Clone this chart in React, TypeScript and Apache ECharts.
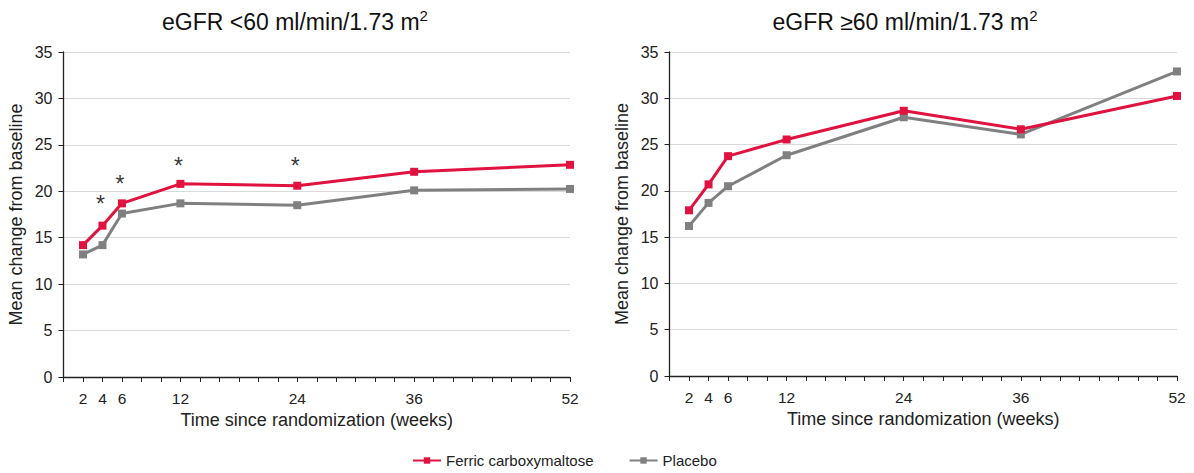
import React, { useEffect, useRef } from "react";
import * as echarts from "echarts";

const weeks = [2, 4, 6, 12, 24, 36, 52];
const xTickLabels = [2, 4, 6, 12, 24, 36, 52];
const lowFcm = [14.2, 16.3, 18.7, 20.8, 20.6, 22.1, 22.85];
const lowPlacebo = [13.2, 14.2, 17.6, 18.7, 18.5, 20.1, 20.25];
const highFcm = [17.9, 20.7, 23.75, 25.55, 28.65, 26.65, 30.25];
const highPlacebo = [16.2, 18.7, 20.5, 23.85, 27.95, 26.1, 32.9];
const asteriskWeeks = [4, 6, 12, 24];
const asteriskY = [18.6, 20.8, 22.7, 22.7];

const RED = "#e0123f";
const GREY = "#808080";
const FONT = "'Liberation Sans', Arial, sans-serif";

const pairs = (xs: number[], ys: number[]) => xs.map((x, i) => [x, ys[i]]);

function xAxis(gridIndex: number) {
  return {
    type: "value",
    gridIndex,
    min: 0,
    max: 52,
    interval: 2,
    name: "Time since randomization (weeks)",
    nameLocation: "middle",
    nameGap: 31,
    nameTextStyle: { fontSize: 18, color: "#222", fontFamily: FONT },
    axisLine: { show: true, lineStyle: { color: "#222", width: 1.3 } },
    axisTick: { show: true, length: 5, lineStyle: { color: "#222" } },
    splitLine: { show: false },
    axisLabel: {
      fontSize: 15.5,
      color: "#222",
      fontFamily: FONT,
      margin: 13,
      formatter: (v: number) => (xTickLabels.indexOf(v) >= 0 ? String(v) : ""),
    },
  };
}

function yAxis(gridIndex: number) {
  return {
    type: "value",
    gridIndex,
    min: 0,
    max: 35,
    interval: 5,
    name: "Mean change from baseline",
    nameLocation: "middle",
    nameGap: 39,
    nameTextStyle: { fontSize: 18, color: "#222", fontFamily: FONT },
    axisLine: { show: true, lineStyle: { color: "#222", width: 1.3 } },
    axisTick: { show: true, length: 5, lineStyle: { color: "#222" } },
    splitLine: { show: true, lineStyle: { color: "#d9d9d9", width: 1.2 } },
    axisLabel: { fontSize: 16, color: "#222", fontFamily: FONT, margin: 11 },
  };
}

function lineSeries(name: string, color: string, idx: number, data: number[][]) {
  return {
    type: "line",
    name,
    xAxisIndex: idx,
    yAxisIndex: idx,
    data,
    symbol: "rect",
    symbolSize: 8,
    lineStyle: { color, width: 3 },
    itemStyle: { color },
    z: color === RED ? 3 : 2,
  };
}

function titleRich(text: string) {
  return {
    text: "{a|" + text + "}{s|2}",
    textStyle: {
      rich: {
        a: { fontSize: 23, fontWeight: "normal", color: "#111", fontFamily: FONT, verticalAlign: "bottom", lineHeight: 26 },
        s: { fontSize: 15, fontWeight: "normal", color: "#111", fontFamily: FONT, verticalAlign: "bottom", lineHeight: 26, padding: [0, 0, 10, 0] },
      },
    },
  };
}

export default function App() {
  const ref = useRef<HTMLDivElement>(null);
  useEffect(() => {
    if (!ref.current) return;
    const chart = echarts.init(ref.current, undefined, { renderer: "svg" });
    chart.setOption({
      animation: false,
      backgroundColor: "#ffffff",
      title: [
        { ...titleRich("eGFR <60 ml/min/1.73 m"), left: 290, top: 2, textAlign: "center" },
        { ...titleRich("eGFR \u226560 ml/min/1.73 m"), left: 900, top: 2, textAlign: "center" },
      ],
      grid: [
        { left: 63.5, right: 624, top: 52, bottom: 96 },
        { left: 669.5, right: 17, top: 52, bottom: 97 },
      ],
      xAxis: [xAxis(0), xAxis(1)],
      yAxis: [yAxis(0), yAxis(1)],
      legend: {
        data: ["Ferric carboxymaltose", "Placebo"],
        top: 448,
        left: 407,
        itemWidth: 28,
        itemHeight: 8,
        itemGap: 35,
        textStyle: { fontSize: 15, color: "#222", fontFamily: FONT },
      },
      series: [
        lineSeries("Ferric carboxymaltose", RED, 0, pairs(weeks, lowFcm)),
        lineSeries("Placebo", GREY, 0, pairs(weeks, lowPlacebo)),
        lineSeries("Ferric carboxymaltose", RED, 1, pairs(weeks, highFcm)),
        lineSeries("Placebo", GREY, 1, pairs(weeks, highPlacebo)),
        {
          type: "scatter",
          name: "sig",
          xAxisIndex: 0,
          yAxisIndex: 0,
          data: pairs(asteriskWeeks, asteriskY),
          symbolSize: 2,
          itemStyle: { color: "rgba(0,0,0,0)" },
          label: {
            show: true,
            formatter: "*",
            position: "inside",
            offset: [-2, 0],
            fontSize: 23,
            color: "#000",
            fontFamily: FONT,
          },
          z: 5,
        },
      ],
    });
    return () => chart.dispose();
  }, []);
  return (
    <div
      ref={ref}
      style={{ position: "fixed", left: 0, top: 0, width: 1194, height: 473, background: "#fff" }}
    />
  );
}
